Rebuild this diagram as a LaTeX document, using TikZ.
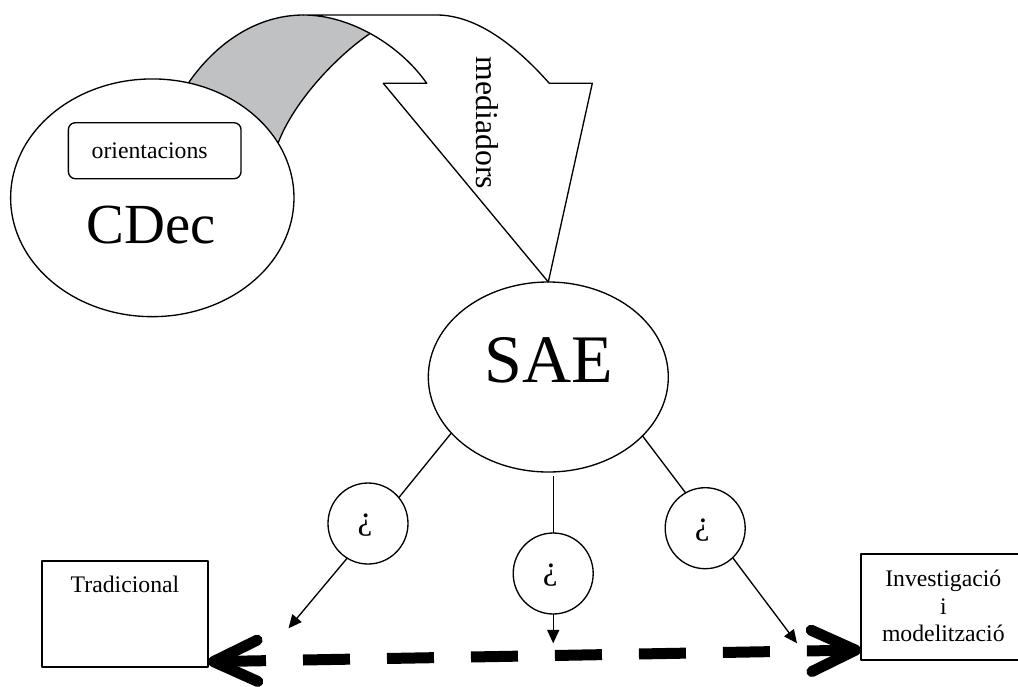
\documentclass[tikz,border=0pt]{standalone}
\usepackage{fontspec}
\setmainfont{Liberation Serif}
\usetikzlibrary{arrows.meta,shapes.geometric,calc}

\definecolor{ribbongray}{RGB}{192,193,195}

\begin{document}
\begin{tikzpicture}[x=0.75pt, y=-0.75pt, line width=1pt, line join=round,
  bubble/.style={ellipse, draw, fill=white, inner sep=0pt, outer sep=0pt},
  framebox/.style={rectangle, draw, fill=white, inner sep=0pt, outer sep=0pt},
  smalltext/.style={font=\fontsize{17.8}{20.6}\selectfont, inner sep=0pt},
  qmark/.style={font=\fontsize{25}{28}\selectfont, inner sep=0pt},
  thinarrow/.style={-{Triangle[length=10pt, width=9pt]}},
  bigarrow/.style={line width=8.25pt, dash pattern=on 35.25pt off 27.75pt,
    {Straight Barb[round, length=33pt, width=31pt]}-{Straight Barb[round, length=33pt, width=31pt]}}
]
\useasboundingbox (0,0) rectangle (1018,686);

% underside of the curved ribbon (grey), tucked under the CDec ellipse
\fill[ribbongray] (183,95) -- (189.3,81.7)
  .. controls (215,45) and (255,15) .. (303.6,15) -- (380,15) -- (370,33.5)
  .. controls (337,56) and (295,100) .. (278.6,141.7) -- (272,160) -- (200,120) -- cycle;
\draw (183,95) -- (189.3,81.7) .. controls (215,45) and (255,15) .. (303.6,15);
\draw (370,33.5) .. controls (337,56) and (295,100) .. (278.6,141.7) -- (272,160);

% main nodes
\node[bubble, minimum width=212.5pt, minimum height=178.3pt] (cdec) at (152.3,197.8) {};
\node[bubble, minimum width=180pt, minimum height=142.5pt] (sae) at (548.3,377) {};

% front face of the curved arrow, pointing down to SAE
\draw[fill=white] (303.6,15) -- (436.7,15)
  .. controls (478,15) and (518,48) .. (549.3,83.3) -- (592.3,83.3)
  -- (sae.north) -- (383.3,83.3) -- (426.7,83.3)
  .. controls (400,45) and (350,15) .. (303.6,15) -- cycle;
\node[rotate=-90, font=\fontsize{23.8}{28}\selectfont, inner sep=0pt] (med) at (487.5,123) {mediadors};

% inner box of CDec
\node[framebox, rounded corners=5.25pt, minimum width=129.5pt, minimum height=42pt] (orient) at (154.7,150.7) {};
\node[smalltext, anchor=base] (orienttext) at (149.7,158.7) {orientacions};
\node[font=\fontsize{42.5}{48}\selectfont, inner sep=0pt, anchor=base] (cdectext) at (151.3,243.3) {CDec};
\node[font=\fontsize{51}{58}\selectfont, inner sep=0pt, anchor=base] (saetext) at (549,382.7) {SAE};

% question bubbles
\node[bubble, minimum width=60pt, minimum height=60.75pt] (c1) at (368,523.5) {};
\node[bubble, minimum width=60pt, minimum height=60.75pt] (c2) at (553.2,573.5) {};
\node[bubble, minimum width=60pt, minimum height=60.75pt] (c3) at (705.2,528.2) {};
\node[qmark] (q1) at ($(c1)+(-3,2)$) {¿};
\node[qmark] (q2) at ($(c2)+(-3,2)$) {¿};
\node[qmark] (q3) at ($(c3)+(-3,2)$) {¿};

% end boxes
\node[framebox, minimum width=124.5pt, minimum height=79.5pt] (trad) at (125,614) {};
\node[smalltext, anchor=base] (tradtext) at (125,592.7) {Tradicional};
\node[framebox, minimum width=123.75pt, minimum height=79.5pt] (inv) at (943.5,607) {};
\node[smalltext, align=center] (invtext) at (943.3,606) {Investigació\\i\\modelització};

% links from SAE through the bubbles
\draw (sae.210.1) -- (c1.40.9);
\draw (sae.328.1) -- (c3.119.6);
\draw[shorten <=2.8pt] (sae.south -| c2.north) -- (c2.north);

\coordinate (t1) at (288.5,628.3);
\coordinate (t2) at (553.2,643.3);
\coordinate (t3) at (797,643.3);
\draw[thinarrow] (c1.239.7) -- (t1);
\draw[thinarrow] (c2.south) -- (t2);
\draw[thinarrow] (c3.313.3) -- (t3);

% thick dashed double arrow between the two approaches
\coordinate (la) at ($(trad.south east)+(0,-5.3)$);
\coordinate (ra) at ($(inv.south west)+(0,-10)$);
\draw[bigarrow] (la) -- (ra);
\end{tikzpicture}
\end{document}
